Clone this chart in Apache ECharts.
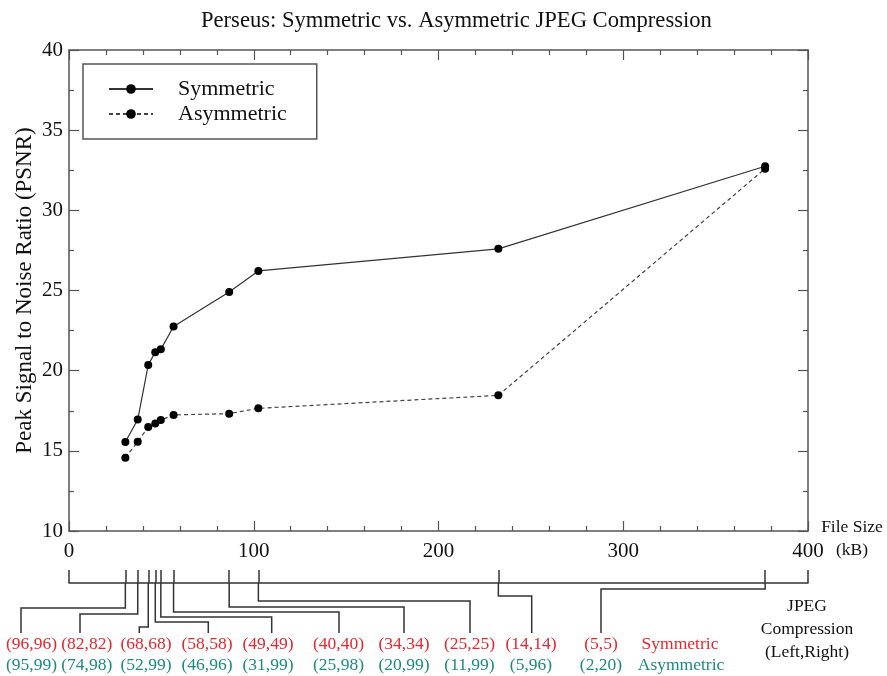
<!DOCTYPE html>
<html>
<head>
<meta charset="utf-8">
<script src="https://cdn.jsdelivr.net/npm/echarts@6/dist/echarts.min.js"></script>
<style>
html,body{margin:0;padding:0;background:#fff;}
#chart{width:887px;height:676px;}
</style>
</head>
<body>
<div id="chart"></div>
<script>
// ---------- data ----------
const fileSizeKB   = [30.5, 37.2, 42.9, 46.7, 49.7, 56.6, 86.7, 102.5, 232.4, 376.8];
const psnrSym      = [15.55, 16.95, 20.36, 21.15, 21.33, 22.75, 24.91, 26.22, 27.6, 32.75];
const psnrAsym     = [14.57, 15.57, 16.49, 16.70, 16.92, 17.24, 17.32, 17.65, 18.46, 32.6];
const symLeft      = [96, 82, 68, 58, 49, 40, 34, 25, 14, 5];
const symRight     = [96, 82, 68, 58, 49, 40, 34, 25, 14, 5];
const asymLeft     = [95, 74, 52, 46, 31, 25, 20, 11, 5, 2];
const asymRight    = [99, 98, 99, 96, 99, 98, 99, 99, 96, 20];
const seriesNames  = ['Symmetric', 'Asymmetric'];
const titleText    = 'Perseus: Symmetric vs. Asymmetric JPEG Compression';

// ---------- layout (pixels) ----------
const labelSlotX = [31.5, 86.7, 146, 207, 268, 338.5, 404, 469.5, 531, 601];
const leaderX    = [21, 80, 139.3, 208.3, 271.7, 339, 404, 470, 531.7, 601];
const elbowY     = [608, 614, 627, 622, 617, 612, 607, 601, 596, 589];
const leaderEndY = 633;
const redRowY = 644, tealRowY = 665;
const RED = '#e8262e', TEAL = '#1b8a80';
const FONT = '"Liberation Serif", "Times New Roman", serif';

const chart = echarts.init(document.getElementById('chart'));

const mainAxisCommon = {
  min: 0, max: 400, interval: 100,
  axisLine: {show: true, onZero: false, lineStyle: {color: '#555', width: 1.5}},
  axisTick: {show: true, inside: true, length: 10, lineStyle: {color: '#555', width: 1.2}},
  minorTick: {show: true, splitNumber: 5, length: 5, lineStyle: {color: '#555', width: 1.2}},
  splitLine: {show: false}
};
const yAxisCommon = {
  type: 'value', min: 10, max: 40, interval: 5,
  axisLine: {show: true, onZero: false, lineStyle: {color: '#555', width: 1.5}},
  axisTick: {show: true, inside: true, length: 10, lineStyle: {color: '#555', width: 1.2}},
  minorTick: {show: true, splitNumber: 2, length: 5, lineStyle: {color: '#555', width: 1.2}},
  splitLine: {show: false}
};

const option = {
  backgroundColor: '#fff',
  animation: false,
  title: {
    text: titleText, left: 196, top: 5,
    textStyle: {fontFamily: FONT, fontSize: 22.6, fontWeight: 'normal', color: '#111'}
  },
  legend: {
    data: seriesNames, orient: 'vertical', left: 83, top: 64,
    borderColor: '#555', borderWidth: 1.5, padding: [14, 30, 14, 25],
    itemWidth: 44, itemHeight: 12, itemGap: 3,
    textStyle: {fontFamily: FONT, fontSize: 22, color: '#111', padding: [0, 0, 0, 20]}
  },
  grid: [
    {left: 69, right: 79, top: 50, bottom: 145, outerBoundsMode: 'none', containLabel: false},
    {left: 69, right: 79, top: 570, height: 13, outerBoundsMode: 'none', containLabel: false}
  ],
  xAxis: [
    Object.assign({type: 'value', gridIndex: 0, position: 'bottom',
      axisLabel: {fontFamily: FONT, fontSize: 21, color: '#111', margin: 10}}, mainAxisCommon),
    Object.assign({type: 'value', gridIndex: 0, position: 'top', axisLabel: {show: false}}, mainAxisCommon),
    {type: 'value', gridIndex: 1, position: 'bottom', min: 0, max: 400,
      axisLine: {show: true, onZero: false, lineStyle: {color: '#333', width: 1.5}},
      axisTick: {show: true, inside: true, length: 13, customValues: [0].concat(fileSizeKB, [400]),
        lineStyle: {color: '#333', width: 1.5}},
      axisLabel: {show: false}, splitLine: {show: false}}
  ],
  yAxis: [
    Object.assign({gridIndex: 0, position: 'left',
      name: 'Peak Signal to Noise Ratio (PSNR)', nameLocation: 'middle', nameGap: 33, nameMoveOverlap: false,
      nameTextStyle: {fontFamily: FONT, fontSize: 23, color: '#111'},
      axisLabel: {fontFamily: FONT, fontSize: 21, color: '#111', margin: 6}}, yAxisCommon),
    Object.assign({gridIndex: 0, position: 'right', axisLabel: {show: false}}, yAxisCommon),
    {type: 'value', gridIndex: 1, min: 0, max: 1, show: false}
  ],
  series: [
    {
      name: seriesNames[0], type: 'line', xAxisIndex: 0, yAxisIndex: 0,
      data: fileSizeKB.map((x, i) => [x, psnrSym[i]]),
      symbol: 'circle', symbolSize: 8,
      itemStyle: {color: '#000'},
      lineStyle: {color: '#333', width: 1.2, type: 'solid'}
    },
    {
      name: seriesNames[1], type: 'line', xAxisIndex: 0, yAxisIndex: 0,
      data: fileSizeKB.map((x, i) => [x, psnrAsym[i]]),
      symbol: 'circle', symbolSize: 8,
      itemStyle: {color: '#000'},
      lineStyle: {color: '#444', width: 1.2, type: [4, 3]}
    },
    {
      type: 'custom', xAxisIndex: 2, yAxisIndex: 2, clip: false, silent: true,
      data: fileSizeKB.map((x, i) => [x, i]),
      renderItem: function (params, api) {
        const i = params.dataIndex;
        const p = api.coord([api.value(0), 0]);
        const lx = leaderX[i];
        return {
          type: 'group',
          children: [
            {type: 'polyline', shape: {points: [[p[0], p[1]], [p[0], elbowY[i]], [lx, elbowY[i]], [lx, leaderEndY]]},
              style: {stroke: '#333', lineWidth: 1.5, fill: null}},
            {type: 'text', x: labelSlotX[i], y: redRowY,
              style: {text: '(' + symLeft[i] + ',' + symRight[i] + ')', fill: RED, font: '17.5px ' + FONT, align: 'center', verticalAlign: 'middle'}},
            {type: 'text', x: labelSlotX[i], y: tealRowY,
              style: {text: '(' + asymLeft[i] + ',' + asymRight[i] + ')', fill: TEAL, font: '17.5px ' + FONT, align: 'center', verticalAlign: 'middle'}}
          ]
        };
      }
    }
  ],
  graphic: [
    {type: 'text', x: 852, y: 538.5, style: {text: 'File Size\n(kB)', fill: '#111', font: '17.5px ' + FONT, align: 'center', verticalAlign: 'middle', lineHeight: 23}},
    {type: 'text', x: 680, y: redRowY, style: {text: seriesNames[0], fill: RED, font: '17.5px ' + FONT, align: 'center', verticalAlign: 'middle'}},
    {type: 'text', x: 681, y: tealRowY, style: {text: seriesNames[1], fill: TEAL, font: '17.5px ' + FONT, align: 'center', verticalAlign: 'middle'}},
    {type: 'text', x: 807, y: 629, style: {text: 'JPEG\nCompression\n(Left,Right)', fill: '#111', font: '17.5px ' + FONT, align: 'center', verticalAlign: 'middle', lineHeight: 23}}
  ]
};
chart.setOption(option);
</script>
</body>
</html>
